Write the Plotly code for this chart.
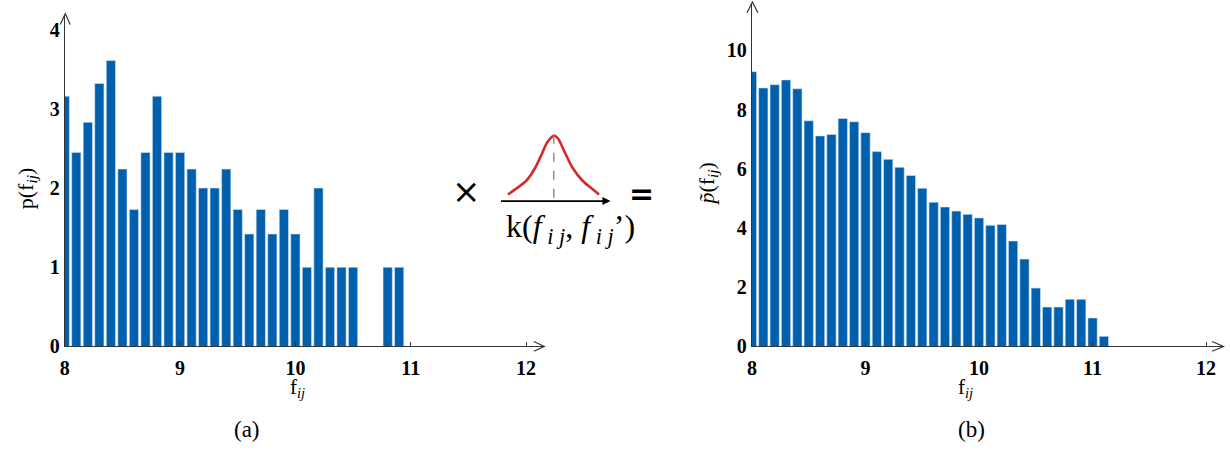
import plotly.graph_objects as go

W, H = 1230, 456

# ---------------- data ----------------
bins_a = [8.0, 8.1, 8.2, 8.3, 8.4, 8.5, 8.6, 8.7, 8.8, 8.9,
          9.0, 9.1, 9.2, 9.3, 9.4, 9.5, 9.6, 9.7, 9.8, 9.9,
          10.0, 10.1, 10.2, 10.3, 10.4, 10.5, 10.6, 10.7, 10.8, 10.9]
p_a = [3.16, 2.45, 2.83, 3.32, 3.61, 2.24, 1.73, 2.45, 3.16, 2.45,
       2.45, 2.24, 2.0, 2.0, 2.24, 1.73, 1.42, 1.73, 1.42, 1.73,
       1.42, 1.0, 2.0, 1.0, 1.0, 1.0, 0.0, 0.0, 1.0, 1.0]

bins_b = [8.0, 8.1, 8.2, 8.3, 8.4, 8.5, 8.6, 8.7, 8.8, 8.9,
          9.0, 9.1, 9.2, 9.3, 9.4, 9.5, 9.6, 9.7, 9.8, 9.9,
          10.0, 10.1, 10.2, 10.3, 10.4, 10.5, 10.6, 10.7, 10.8, 10.9,
          11.0, 11.1]
p_b = [9.28, 8.73, 8.84, 9.0, 8.70, 7.62, 7.11, 7.16, 7.70, 7.59,
       7.22, 6.58, 6.32, 6.05, 5.77, 5.34, 4.87, 4.71, 4.57, 4.46,
       4.34, 4.09, 4.12, 3.56, 2.95, 1.97, 1.33, 1.33, 1.59, 1.59,
       0.96, 0.34]

# kernel icon curve
kern_x = [-1.0, -0.82, -0.60, -0.42, -0.28, -0.13, 0.0, 0.09, 0.23, 0.41, 0.63, 0.85, 0.99]
kern_y = [0.10, 0.19, 0.31, 0.49, 0.69, 0.91, 1.0, 0.96, 0.76, 0.51, 0.31, 0.18, 0.10]

xticks = [8, 9, 10, 11, 12]
yticks_a = [0, 1, 2, 3, 4]
yticks_b = [0, 2, 4, 6, 8, 10]

BLUE = "#0060ad"
AX = "#333333"
SERIF = "Liberation Serif"


def px(x):
    return x / W


def py(y):
    return 1 - y / H


fig = go.Figure()

fig.add_trace(go.Bar(x=bins_a, y=p_a, width=0.08, marker=dict(color=BLUE, line=dict(color="#d6e4f2", width=0.6)),
                     xaxis="x", yaxis="y"))
fig.add_trace(go.Bar(x=bins_b, y=p_b, width=0.082, marker=dict(color=BLUE, line=dict(color="#d6e4f2", width=0.6)),
                     xaxis="x2", yaxis="y2"))
fig.add_trace(go.Scatter(x=kern_x, y=kern_y, mode="lines", line=dict(color="#d42a2a", width=2.6, shape="spline"),
                         xaxis="x3", yaxis="y3"))
fig.add_trace(go.Scatter(x=[0, 0], y=[0.05, 1.11], mode="lines", line=dict(color="#888888", width=1.4, dash="dash"),
                         xaxis="x3", yaxis="y3"))

tickfont = dict(family=SERIF, size=20, color="black", weight="bold")
common_x = dict(showgrid=False, zeroline=False, showline=True, linecolor=AX, linewidth=1.2,
                ticks="inside", ticklen=4, tickcolor=AX, tickvals=xticks, tickfont=tickfont,
                ticklabelstandoff=3)
common_y = dict(showgrid=False, zeroline=False, showline=True, linecolor=AX, linewidth=1.2,
                ticks="", tickfont=tickfont)

fig.update_layout(
    width=W, height=H, margin=dict(l=0, r=0, t=0, b=0),
    paper_bgcolor="white", plot_bgcolor="white", showlegend=False,
    xaxis=dict(domain=[px(60), px(541)], range=[8, 12.154], anchor="y", **common_x),
    yaxis=dict(domain=[py(355), py(15)], range=[0, 4.19], anchor="x", tickvals=yticks_a, **common_y),
    xaxis2=dict(domain=[px(750), px(1223)], range=[8, 12.149], anchor="y2", **common_x),
    yaxis2=dict(domain=[py(355), py(3)], range=[0, 11.6], anchor="x2", tickvals=yticks_b, **common_y),
    xaxis3=dict(domain=[px(497), px(608)], range=[-1.174, 1.239], anchor="y3", visible=False),
    yaxis3=dict(domain=[py(206), py(131)], range=[0, 1.12], anchor="x3", visible=False),
)

# open V arrowheads on axes
arrows = [
    [(55.5, 25), (60.5, 14), (65.5, 25)],
    [(531, 350), (541.5, 355), (531, 360)],
    [(745, 13), (750.5, 2), (756, 13)],
    [(1212, 350), (1223.5, 355), (1212, 360)],
]
for pts in arrows:
    path = "M {} {} L {} {} L {} {}".format(px(pts[0][0]), py(pts[0][1]), px(pts[1][0]), py(pts[1][1]),
                                             px(pts[2][0]), py(pts[2][1]))
    fig.add_shape(type="path", path=path, xref="paper", yref="paper", line=dict(color=AX, width=1.2))

# kernel baseline arrow
fig.add_annotation(x=px(608), y=py(206), xref="paper", yref="paper", ax=-111, ay=0,
                   showarrow=True, arrowhead=2, arrowsize=0.9, arrowwidth=1.8, arrowcolor="black", text="")


def ann(x, y, text, size=20, angle=0, family=SERIF, **kw):
    fig.add_annotation(x=px(x), y=py(y), xref="paper", yref="paper", text=text, showarrow=False,
                       textangle=angle, font=dict(family=family, size=size, color="black"),
                       xanchor="center", yanchor="middle", **kw)


ann(22, 193, "p(f<sub><i>ij</i></sub>)", size=22, angle=-90)
ann(706, 188, "<i>p̃</i>(f<sub><i>ij</i></sub>)", size=22, angle=-90)
ann(294, 398, "f<sub><i>ij</i></sub>", size=21)
ann(964, 398, "f<sub><i>ij</i></sub>", size=21)
ann(243, 440, "(a)", size=23)
ann(970, 440, "(b)", size=23)
ann(463, 196, "×", size=34, family="DejaVu Sans")
ann(639, 198, "<b>=</b>", size=30, family="DejaVu Sans")
ann(568, 234, "k(<i>f</i><sub><i> i j</i></sub>, <i>f</i><sub><i> i j</i></sub>’)", size=32)

fig.write_html("out.html")
